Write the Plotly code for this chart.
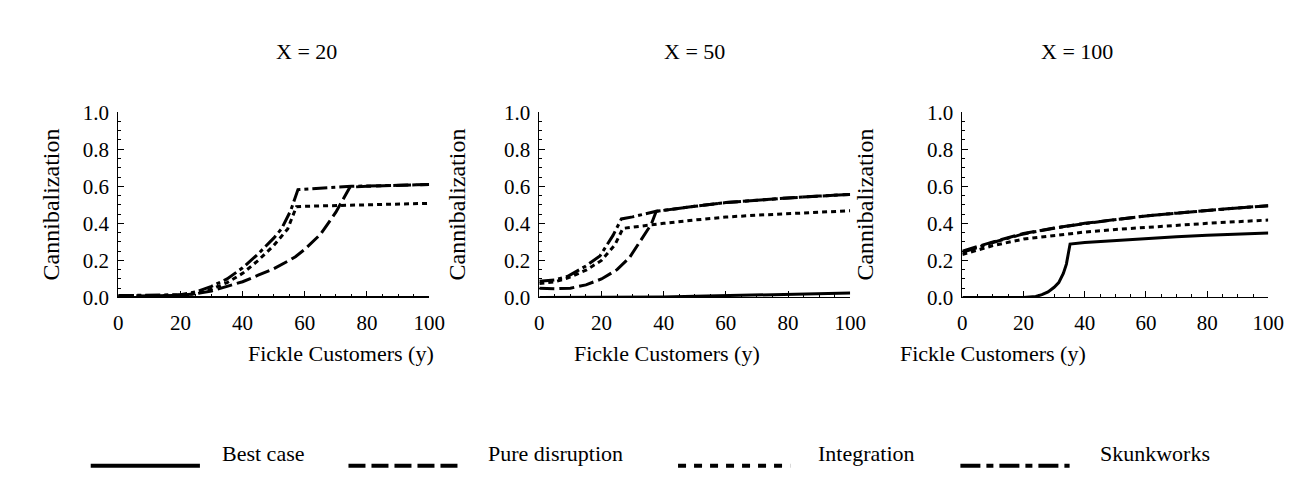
import plotly.graph_objects as go

# ---------------- data ----------------
panel_titles = ["X = 20", "X = 50", "X = 100"]
series_names = ["Best case", "Pure disruption", "Integration", "Skunkworks"]

# X = 20
best_20_x = [0, 100]
best_20_y = [0.0, 0.0]
pure_20_x = [0, 10, 20, 25, 30, 35, 40, 45, 50, 55, 57, 60, 65, 70, 74.5, 80, 90, 100]
pure_20_y = [0.005, 0.007, 0.012, 0.02, 0.035, 0.06, 0.085, 0.12, 0.155, 0.2, 0.22, 0.26, 0.34, 0.46, 0.595, 0.6, 0.605, 0.61]
integ_20_x = [0, 10, 20, 25, 30, 35, 40, 45, 50, 54.5, 57.3, 60, 70, 80, 90, 100]
integ_20_y = [0.008, 0.009, 0.012, 0.02, 0.045, 0.08, 0.13, 0.2, 0.28, 0.37, 0.49, 0.492, 0.497, 0.5, 0.505, 0.508]
skunk_20_x = [0, 10, 20, 25, 30, 35, 40, 45, 50, 52.5, 55.5, 57.8, 65, 75, 90, 100]
skunk_20_y = [0.01, 0.011, 0.015, 0.03, 0.06, 0.1, 0.16, 0.235, 0.32, 0.37, 0.47, 0.582, 0.59, 0.6, 0.605, 0.61]

# X = 50
best_50_x = [0, 30, 40, 50, 60, 70, 80, 90, 100]
best_50_y = [0.0, 0.0, 0.002, 0.006, 0.01, 0.014, 0.018, 0.021, 0.024]
pure_50_x = [0, 5, 10, 15, 20, 25, 29, 33, 36, 37.6, 45, 50, 60, 70, 80, 90, 100]
pure_50_y = [0.05, 0.047, 0.05, 0.068, 0.1, 0.15, 0.215, 0.318, 0.395, 0.465, 0.482, 0.492, 0.512, 0.526, 0.537, 0.547, 0.556]
integ_50_x = [0, 5, 9, 15, 20, 24.3, 26.9, 30, 40, 50, 60, 70, 80, 90, 100]
integ_50_y = [0.075, 0.085, 0.104, 0.147, 0.2, 0.284, 0.373, 0.38, 0.4, 0.418, 0.434, 0.444, 0.453, 0.461, 0.468]
skunk_50_x = [0, 5, 9, 15, 19.5, 23.7, 26.4, 30, 37.6, 45, 50, 60, 70, 80, 90, 100]
skunk_50_y = [0.087, 0.095, 0.113, 0.17, 0.224, 0.335, 0.424, 0.435, 0.465, 0.482, 0.492, 0.512, 0.526, 0.537, 0.547, 0.556]

# X = 100
best_100_x = [0, 20, 24, 26, 28, 30, 31.5, 33, 34, 34.8, 35.2, 40, 50, 60, 70, 80, 90, 100]
best_100_y = [0.0, 0.0, 0.005, 0.015, 0.03, 0.055, 0.08, 0.13, 0.18, 0.24, 0.288, 0.296, 0.308, 0.32, 0.328, 0.336, 0.342, 0.348]
pure_100_x = [0, 5, 10, 20, 30, 40, 50, 60, 70, 80, 90, 100]
pure_100_y = [0.25, 0.275, 0.3, 0.345, 0.375, 0.4, 0.42, 0.44, 0.455, 0.47, 0.483, 0.495]
integ_100_x = [0, 5, 10, 20, 30, 40, 50, 60, 70, 80, 90, 100]
integ_100_y = [0.232, 0.258, 0.28, 0.315, 0.336, 0.353, 0.367, 0.379, 0.39, 0.4, 0.409, 0.418]
skunk_100_x = [0, 5, 10, 20, 30, 40, 50, 60, 70, 80, 90, 100]
skunk_100_y = [0.243, 0.27, 0.297, 0.343, 0.374, 0.399, 0.42, 0.44, 0.455, 0.47, 0.483, 0.495]

x_tick_vals = [0, 20, 40, 60, 80, 100]
y_tick_vals = [0.0, 0.2, 0.4, 0.6, 0.8, 1.0]

panels = [
    [(best_20_x, best_20_y), (pure_20_x, pure_20_y), (integ_20_x, integ_20_y), (skunk_20_x, skunk_20_y)],
    [(best_50_x, best_50_y), (pure_50_x, pure_50_y), (integ_50_x, integ_50_y), (skunk_50_x, skunk_50_y)],
    [(best_100_x, best_100_y), (pure_100_x, pure_100_y), (integ_100_x, integ_100_y), (skunk_100_x, skunk_100_y)],
]

# ---------------- styling ----------------
W, H = 1296, 482
FONT = "Liberation Serif"
line_dash = ["solid", "15px,5px", "5px,4px", "15px,4px,4px,4px"]
legend_dash = ["solid", "17px,6px", "8px,8px", "20px,6px,7px,6px"]

# plot areas in pixels (left, right), (top, bottom)
px_x = [(107, 423), (535, 851), (965, 1276)]
px_top, px_bot = 97, 292


def fx(p):
    return p / W


def fy(p):
    return 1 - p / H


fig = go.Figure()
for i, data in enumerate(panels):
    ax = "" if i == 0 else str(i + 1)
    for j, (xs, ys) in enumerate(data):
        fig.add_trace(go.Scatter(
            x=xs, y=ys, mode="lines", name=series_names[j], showlegend=False,
            line=dict(color="black", width=3, dash=line_dash[j]),
            xaxis="x" + ax, yaxis="y" + ax,
        ))
    common = dict(showline=True, linecolor="black", linewidth=1, ticks="inside",
                  ticklen=6, tickwidth=1, tickcolor="black", showgrid=False,
                  zeroline=False, tickfont=dict(family=FONT, size=21, color="black"))
    fig.layout["xaxis" + ax] = dict(
        domain=[fx(px_x[i][0]), fx(px_x[i][1])], range=[0, 100], anchor="y" + ax,
        tickvals=x_tick_vals, ticklabelstandoff=6,
        minor=dict(dtick=5, tick0=0, ticks="inside", ticklen=3, tickcolor="black"),
        **common)
    fig.layout["yaxis" + ax] = dict(
        domain=[fy(px_bot), fy(px_top)], range=[0, 1], anchor="x" + ax,
        tickvals=y_tick_vals, tickformat=".1f", ticklabelstandoff=4,
        minor=dict(dtick=0.05, tick0=0, ticks="inside", ticklen=3, tickcolor="black"),
        **common)
    cx = (px_x[i][0] + px_x[i][1]) / 2
    fig.add_annotation(text=panel_titles[i], x=fx(cx), y=fy(18), xref="paper", yref="paper",
                       showarrow=False, font=dict(family=FONT, size=22, color="black"))
    fig.add_annotation(text="Cannibalization", x=fx(px_x[i][0] - 84), y=fy((px_top + px_bot) / 2),
                       xref="paper", yref="paper", showarrow=False, textangle=-90,
                       font=dict(family=FONT, size=24, color="black"))
    fig.add_annotation(text="Fickle Customers (y)", x=fx(cx - 28), y=fy(366), xref="paper", yref="paper",
                       showarrow=False, font=dict(family=FONT, size=22, color="black"))

# ---------------- legend (drawn manually) ----------------
leg_y = 469
leg_lines = [(79, 190), (341, 452), (676, 790), (963, 1074)]
leg_text_x = [210, 481, 816, 1103]
for j in range(4):
    fig.add_shape(type="line", xref="paper", yref="paper",
                  x0=fx(leg_lines[j][0]), x1=fx(leg_lines[j][1]), y0=fy(leg_y), y1=fy(leg_y),
                  line=dict(color="black", width=4, dash=legend_dash[j]))
    fig.add_annotation(text=series_names[j], x=fx(leg_text_x[j]), y=fy(leg_y + 2), xref="paper", yref="paper",
                       xanchor="left", showarrow=False, font=dict(family=FONT, size=22, color="black"))

fig.update_layout(width=W, height=H, margin=dict(l=0, r=0, t=0, b=0),
                  paper_bgcolor="white", plot_bgcolor="white", showlegend=False)
fig.write_html("out.html")
